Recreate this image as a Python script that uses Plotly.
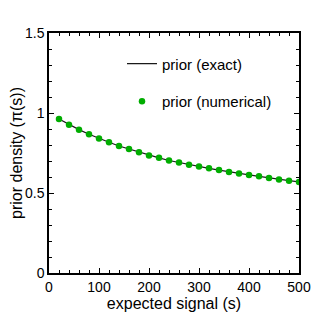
import plotly.graph_objects as go

# expected signal s and prior density
signal = [20, 40, 60, 80, 100, 120, 140, 160, 180, 200, 220, 240, 260,
          280, 300, 320, 340, 360, 380, 400, 420, 440, 460, 480, 500]
prior_numerical = [0.962, 0.927, 0.896, 0.867, 0.840, 0.817, 0.794, 0.775,
                   0.754, 0.735, 0.720, 0.703, 0.690, 0.677, 0.666, 0.654,
                   0.643, 0.632, 0.622, 0.613, 0.604, 0.594, 0.585, 0.577, 0.569]
prior_exact = prior_numerical

x_ticks = [0, 100, 200, 300, 400, 500]
y_ticks = [0, 0.5, 1, 1.5]
y_ticklabels = ['0', '0.5', '1', '1.5']

font = 'Liberation Sans, Arial, sans-serif'

fig = go.Figure()
fig.add_trace(go.Scatter(x=signal, y=prior_exact, mode='lines', name='prior (exact)',
                         line=dict(color='#1a1a1a', width=1.2), legendgroup='a'))
fig.add_trace(go.Scatter(x=signal, y=prior_numerical, mode='markers', name='prior (numerical)',
                         marker=dict(color='#00ad00', size=6.5), legendgroup='b'))

axis_common = dict(showline=True, linecolor='black', linewidth=1.5, mirror='allticks',
                   ticks='inside', ticklen=5, tickwidth=1.2, tickcolor='black',
                   showgrid=False, zeroline=False, automargin=False,
                   tickfont=dict(family=font, size=14, color='black'))

fig.update_xaxes(range=[0, 500], tickvals=x_ticks,
                 minor=dict(dtick=20, ticks='inside', ticklen=3, tickwidth=1, tickcolor='black'),
                 title=dict(text='expected signal (s)', font=dict(family=font, size=16, color='black'), standoff=2),
                 **axis_common)
fig.update_yaxes(range=[0, 1.5], tickvals=y_ticks, ticktext=y_ticklabels,
                 minor=dict(dtick=0.1, ticks='inside', ticklen=3, tickwidth=1, tickcolor='black'),
                 title=dict(text='prior density (π(s))', font=dict(family=font, size=16, color='black'), standoff=4),
                 **axis_common)

# page body has an 8px margin, so the figure is shrunk by that amount
fig.update_layout(width=324, height=314, margin=dict(l=41, r=33, t=25, b=49),
                  plot_bgcolor='white', paper_bgcolor='white',
                  font=dict(family=font, size=14, color='black'),
                  showlegend=True,
                  legend=dict(x=0.292, y=0.94, xanchor='left', yanchor='top',
                              bgcolor='rgba(0,0,0,0)', borderwidth=0,
                              tracegroupgap=15, font=dict(family=font, size=15, color='black')))

fig.write_html('out.html')
